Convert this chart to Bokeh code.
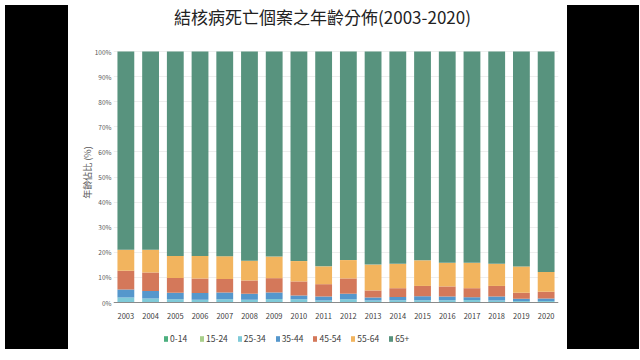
from bokeh.plotting import figure
from bokeh.layouts import row
from bokeh.models import (Legend, LegendItem, FixedTicker, PrintfTickFormatter,
                          ColumnDataSource, Div, Label)
from bokeh.embed import file_html
from bokeh.resources import INLINE

years = [str(y) for y in range(2003, 2021)]
age_groups = ["0-14", "15-24", "25-34", "35-44", "45-54", "55-64", "65+"]

a0_14 = [0.0, 0.0, 0.0, 0.0, 0.0, 0.0, 0.0, 0.0, 0.0, 0.0, 0.0, 0.0, 0.0, 0.0, 0.0, 0.0, 0.0, 0.0]
a15_24 = [0.1, 0.1, 0.1, 0.1, 0.1, 0.1, 0.1, 0.1, 0.1, 0.1, 0.1, 0.1, 0.1, 0.1, 0.1, 0.1, 0.1, 0.1]
a25_34 = [1.9, 1.5, 1.2, 1.0, 1.2, 1.0, 1.3, 1.2, 0.7, 1.2, 0.7, 0.8, 0.8, 0.8, 0.9, 0.7, 0.5, 0.5]
a35_44 = [3.2, 3.0, 2.6, 2.7, 2.7, 2.4, 2.6, 1.5, 1.6, 2.2, 1.2, 1.3, 1.6, 1.5, 1.1, 1.6, 0.9, 1.0]
a45_54 = [7.4, 7.4, 5.9, 5.8, 5.4, 5.3, 5.7, 5.6, 4.9, 6.1, 2.8, 3.5, 4.1, 4.0, 3.6, 4.2, 2.4, 2.7]
a55_64 = [8.4, 9.0, 8.7, 8.9, 9.0, 7.8, 8.6, 8.1, 7.1, 7.3, 10.3, 9.7, 10.2, 9.4, 10.1, 8.8, 10.4, 7.9]
a65p = [79.0, 79.0, 81.5, 81.5, 81.6, 83.4, 81.7, 83.5, 85.6, 83.1, 84.9, 84.6, 83.2, 84.2, 84.2, 84.6, 85.7, 87.8]

colors = ["#4caf7f", "#a8cf8a", "#7fcad8", "#5597cc", "#d4785a", "#f2b45e", "#58937e"]
title_text = "結核病死亡個案之年齡分佈(2003-2020)"

keys = ["a0_14", "a15_24", "a25_34", "a35_44", "a45_54", "a55_64", "a65p"]
src = ColumnDataSource(dict(years=years, a0_14=a0_14, a15_24=a15_24, a25_34=a25_34,
                            a35_44=a35_44, a45_54=a45_54, a55_64=a55_64, a65p=a65p))

FONT = "Noto Sans CJK TC"
LEFT_W, W, RIGHT_W, H = 63, 489, 72, 344
BL, BR = 40, 4
TOP_PX, BOT_PX = 51, 42              # space above 100% and below 0% inside the frame
PPU = (H - TOP_PX - BOT_PX) / 100.0  # pixels per percent
y_top = 100 + TOP_PX / PPU
y_bot = -BOT_PX / PPU

p = figure(x_range=years, y_range=(y_bot, y_top), width=W, height=H,
           output_backend="svg", toolbar_location=None, title_location=None,
           min_border_left=BL, min_border_right=BR, min_border_top=0, min_border_bottom=0)

rs = p.vbar_stack(keys, x="years", width=0.68, source=src, color=colors, line_color=None)

p.yaxis.ticker = FixedTicker(ticks=list(range(0, 101, 10)))
p.yaxis.formatter = PrintfTickFormatter(format="%d%%")
p.yaxis.axis_line_color = None
p.yaxis.major_tick_line_color = None
p.yaxis.minor_tick_line_color = None
p.yaxis.major_tick_out = 0
p.yaxis.major_tick_in = 0
p.yaxis.minor_tick_out = 0
p.yaxis.major_label_text_font_size = "6.5px"
p.yaxis.major_label_text_color = "#595959"
p.yaxis.major_label_text_font = FONT
p.yaxis.major_label_standoff = 2
p.yaxis.axis_label = "年齡佔比 (%)"
p.yaxis.axis_label_text_font = FONT
p.yaxis.axis_label_text_font_size = "9px"
p.yaxis.axis_label_text_font_style = "normal"
p.yaxis.axis_label_text_color = "#595959"
p.yaxis.axis_label_standoff = -2

p.xaxis.fixed_location = 0
p.xaxis.axis_line_color = "#8a8a8a"
p.xaxis.axis_line_width = 1
p.xaxis.major_tick_line_color = None
p.xaxis.minor_tick_line_color = None
p.xaxis.major_tick_out = 0
p.xaxis.major_label_text_font_size = "7.5px"
p.xaxis.major_label_text_color = "#404040"
p.xaxis.major_label_text_font = FONT
p.xaxis.major_label_standoff = 10

p.xgrid.grid_line_color = None
p.ygrid.grid_line_color = "#eeeeee"
p.outline_line_color = None
p.x_range.range_padding = 0.0

# chart title, centred over the white panel
n = len(years)
frame_w = W - BL - BR
title_x = ((320 - 8 - LEFT_W) - BL) / frame_w * n
title_y = y_top - 16 / PPU
p.add_layout(Label(x=title_x, y=title_y, text=title_text, text_font=FONT,
                   text_font_size="17px", text_color="#222222",
                   text_align="center", text_baseline="middle"))

legend = Legend(items=[LegendItem(label=g, renderers=[r]) for g, r in zip(age_groups, rs)],
                orientation="horizontal", location=(50, 0),
                label_text_font=FONT, label_text_font_size="8.5px", label_text_color="#404040",
                glyph_width=5, glyph_height=7, label_standoff=2, spacing=9,
                padding=1, margin=0, border_line_color=None, background_fill_alpha=0)
p.add_layout(legend)

left = Div(width=LEFT_W, height=H, styles={"background-color": "black"})
right = Div(width=RIGHT_W, height=H, styles={"background-color": "black"})

layout = row(left, p, right)
open("out.html", "w").write(file_html(layout, INLINE))
